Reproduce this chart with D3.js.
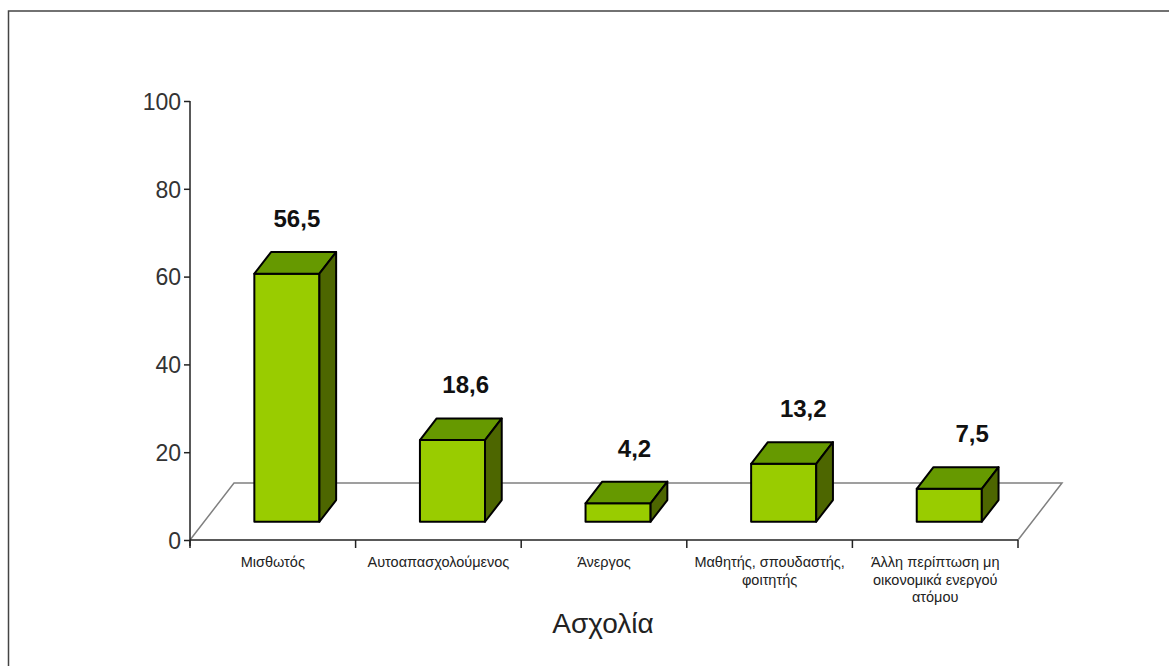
<!DOCTYPE html>
<html>
<head>
<meta charset="utf-8">
<script src="https://cdn.jsdelivr.net/npm/d3@7"></script>
<style>
  html, body { margin: 0; padding: 0; background: #fff; }
  svg { display: block; }
  text { font-family: "Liberation Sans", Arial, sans-serif; }
</style>
</head>
<body>
<svg id="chart" width="1169" height="666"></svg>
<script>
// Occupation distribution (%)
const categories = [
  "Μισθωτός",
  "Αυτοαπασχολούμενος",
  "Άνεργος",
  "Μαθητής, σπουδαστής, φοιτητής",
  "Άλλη περίπτωση μη οικονομικά ενεργού ατόμου"
];
const categoryLines = [
  ["Μισθωτός"],
  ["Αυτοαπασχολούμενος"],
  ["Άνεργος"],
  ["Μαθητής, σπουδαστής,", "φοιτητής"],
  ["Άλλη περίπτωση μη", "οικονομικά ενεργού", "ατόμου"]
];
const values = [56.5, 18.6, 4.2, 13.2, 7.5];
const valueLabels = ["56,5", "18,6", "4,2", "13,2", "7,5"];
const yTicks = [0, 20, 40, 60, 80, 100];
const axisTitle = "Ασχολία";

const svg = d3.select("#chart");

// outer frame
svg.append("rect")
  .attr("x", 8.5).attr("y", 11).attr("width", 1200).attr("height", 700)
  .attr("fill", "none").attr("stroke", "#444").attr("stroke-width", 1.5);

const x0 = 190, x1 = 1018, yBase = 540, yTop = 101;
const depth = { dx: 44, dy: -57 };        // floor depth vector
const barFront = 0.32, barBack = 0.70;    // bar position along depth

const x = d3.scaleBand().domain(categories).range([x0, x1])
  .paddingInner(0.607).paddingOuter(0.3035);
const y = d3.scaleLinear().domain([0, 100]).range([yBase, yTop]);

// floor
const floor = [
  [x0, yBase],
  [x0 + depth.dx, yBase + depth.dy],
  [x1 + depth.dx, yBase + depth.dy],
  [x1, yBase]
];
svg.append("path")
  .attr("d", d3.line()(floor))
  .attr("fill", "#fff").attr("stroke", "#808080").attr("stroke-width", 1.5);

// y axis
const yAxis = d3.axisLeft(y).tickValues(yTicks).tickSize(6).tickPadding(3);
const gy = svg.append("g").attr("transform", `translate(${x0},0)`).call(yAxis);
gy.select(".domain").remove();
gy.selectAll(".tick line").attr("stroke", "#222").attr("stroke-width", 1.5);
gy.selectAll(".tick text")
  .attr("fill", "#333").style("font-size", "23px").attr("dy", "0.36em");
svg.append("line")
  .attr("x1", x0).attr("x2", x0).attr("y1", yTop).attr("y2", yBase + 6)
  .attr("stroke", "#222").attr("stroke-width", 1.5);

// x axis (front edge of floor) with boundary ticks
svg.append("line")
  .attr("x1", x0).attr("x2", x1).attr("y1", yBase).attr("y2", yBase)
  .attr("stroke", "#222").attr("stroke-width", 1.5);
const step = x.step();
const boundaries = d3.range(categories.length + 1).map(i => x0 + i * step);
svg.selectAll("line.xtick").data(boundaries).join("line")
  .attr("class", "xtick")
  .attr("x1", d => d).attr("x2", d => d)
  .attr("y1", yBase).attr("y2", yBase + 8)
  .attr("stroke", "#222").attr("stroke-width", 1.5);

// bars
const colFront = "#99cc00", colTop = "#669900", colSide = "#4d6600";
const fdx = depth.dx * barFront, fdy = depth.dy * barFront;
const bdx = depth.dx * (barBack - barFront), bdy = depth.dy * (barBack - barFront);

const bars = svg.selectAll("g.bar").data(categories).join("g").attr("class", "bar");
bars.each(function (c, i) {
  const g = d3.select(this);
  const left = x(c) + fdx;
  const right = left + x.bandwidth();
  const bottom = yBase + fdy;
  const top = bottom - (yBase - y(values[i]));
  const face = (pts, fill) => g.append("path")
    .attr("d", d3.line()(pts) + "Z")
    .attr("fill", fill).attr("stroke", "#000").attr("stroke-width", 2)
    .attr("stroke-linejoin", "round");
  face([[left, bottom], [left, top], [right, top], [right, bottom]], colFront);
  face([[left, top], [left + bdx, top + bdy], [right + bdx, top + bdy], [right, top]], colTop);
  face([[right, bottom], [right, top], [right + bdx, top + bdy], [right + bdx, bottom + bdy]], colSide);

  g.append("text")
    .attr("x", (left + right) / 2 + 10 + 3.2 * i)
    .attr("y", top + bdy - 25)
    .attr("text-anchor", "middle")
    .attr("fill", "#111").style("font-size", "24px").style("font-weight", "bold")
    .text(valueLabels[i]);
});

// category labels
svg.selectAll("text.cat").data(categories).join("text")
  .attr("class", "cat")
  .attr("text-anchor", "middle")
  .attr("fill", "#222").style("font-size", "14.5px")
  .each(function (c, i) {
    const t = d3.select(this);
    categoryLines[i].forEach((line, k) => {
      t.append("tspan")
        .attr("x", x(c) + x.bandwidth() / 2)
        .attr("y", 567 + k * 17.5)
        .text(line);
    });
  });

// axis title
svg.append("text")
  .attr("x", 603).attr("y", 633)
  .attr("text-anchor", "middle")
  .attr("fill", "#222").style("font-size", "28px")
  .text(axisTitle);
</script>
</body>
</html>
